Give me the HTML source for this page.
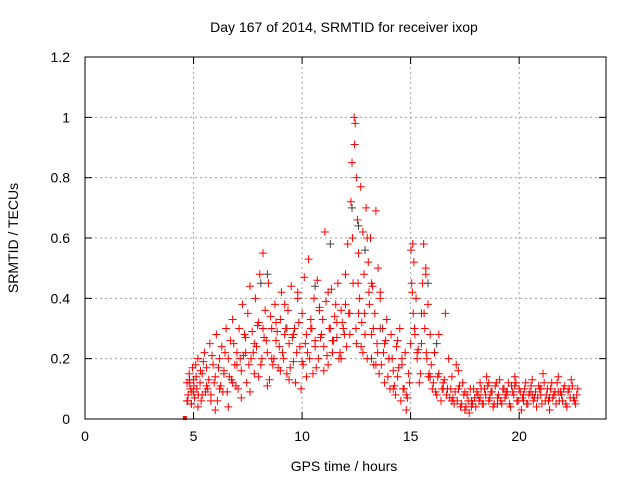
<!DOCTYPE html>
<html><head><meta charset="utf-8"><style>
body{margin:0;background:#fff;font-family:"Liberation Sans",sans-serif}
svg text{font-family:"Liberation Sans",sans-serif;font-size:14px;fill:#000}
</style></head><body>
<svg id="chart" width="640" height="480" viewBox="0 0 640 480">
<rect x="0" y="0" width="640" height="480" fill="#fff"/>
<text x="344" y="32" text-anchor="middle">Day 167 of 2014, SRMTID for receiver ixop</text>
<text x="344" y="471" text-anchor="middle">GPS time / hours</text>
<text transform="translate(18,238) rotate(-90)" text-anchor="middle">SRMTID / TECUs</text>
<g id="grid"></g>
<g id="ticks"></g>
<g id="gray"></g>
<g id="red"></g>
<rect x="85" y="57" width="521" height="362" fill="none" stroke="#000" stroke-width="1"/>
</svg>
<script>
const xTicks=[0,5,10,15,20];
const yTicks=[0,0.2,0.4,0.6,0.8,1,1.2];
const yTickLabels=["0","0.2","0.4","0.6","0.8","1","1.2"];
const redTimes=[4.7,4.75,4.8,4.85,4.9,4.95,5.0,5.05,5.1,5.15,5.2,5.3,5.35,5.4,5.5,5.55,5.6,5.7,5.75,5.8,5.9,6.0,6.05,6.1,6.2,6.25,6.3,6.4,6.5,6.55,6.6,6.7,6.75,6.8,6.9,7.0,7.05,7.1,7.2,7.25,7.3,7.4,7.45,7.5,7.6,7.65,7.7,7.8,7.85,7.9,8.0,8.05,8.1,8.2,8.25,8.3,8.4,8.45,8.5,8.6,8.7,8.75,8.8,8.9,9.0,9.05,9.1,9.2,9.3,9.35,9.4,9.5,9.6,9.65,9.7,9.8,9.9,10.0,10.05,10.1,10.2,10.25,10.3,10.4,10.5,10.55,10.6,10.7,10.75,10.8,10.9,11.0,11.05,11.1,11.2,11.3,11.35,11.4,11.5,11.6,11.65,11.7,11.8,11.9,12.0,12.05,12.1,12.2,12.25,12.3,12.35,12.4,12.42,12.45,12.5,12.5,12.55,12.6,12.65,12.7,12.75,12.8,12.85,12.9,12.95,13.0,13.05,13.1,13.15,13.2,13.25,13.3,13.35,13.4,13.45,13.5,13.55,13.6,13.7,13.75,13.8,13.9,14.0,14.05,14.1,14.2,14.3,14.35,14.4,14.5,14.55,14.6,14.7,14.8,14.9,15.0,15.02,15.05,15.1,15.12,15.15,15.2,15.25,15.3,15.4,15.5,15.55,15.6,15.65,15.7,15.75,15.8,15.85,15.9,16.0,16.1,16.2,16.3,16.4,16.5,16.6,16.7,16.75,16.8,16.9,17.0,17.1,17.2,17.3,17.4,17.5,17.6,17.7,17.8,17.9,18.0,18.1,18.2,18.3,18.4,18.5,18.6,18.7,18.8,18.9,19.0,19.1,19.2,19.3,19.4,19.5,19.6,19.7,19.8,19.9,20.0,20.1,20.2,20.3,20.4,20.5,20.6,20.7,20.8,20.9,21.0,21.1,21.2,21.3,21.4,21.5,21.6,21.7,21.8,21.9,22.0,22.1,22.2,22.3,22.4,22.5,22.6,22.7,4.7,4.8,4.9,5.0,5.2,5.4,5.6,5.8,6.0,6.2,6.4,6.6,6.8,7.0,7.2,7.4,7.6,7.8,8.0,8.2,8.4,8.6,8.8,9.0,9.2,9.4,9.6,9.8,10.0,10.2,10.4,10.6,10.8,11.0,11.2,11.4,11.6,11.8,12.0,12.2,12.6,12.8,13.0,13.2,13.4,13.6,13.8,14.0,14.2,14.4,14.6,14.8,15.3,15.5,15.7,15.9,16.1,16.3,16.5,16.9,17.2,17.5,17.8,18.2,18.6,19.0,19.4,19.8,20.2,20.6,21.0,21.4,21.8,22.2,22.6];
const redValues=[0.12,0.08,0.15,0.1,0.05,0.17,0.13,0.07,0.18,0.1,0.2,0.12,0.06,0.15,0.22,0.09,0.17,0.13,0.25,0.08,0.18,0.14,0.28,0.06,0.2,0.11,0.24,0.16,0.3,0.09,0.2,0.26,0.13,0.33,0.18,0.22,0.1,0.3,0.16,0.38,0.21,0.27,0.12,0.35,0.44,0.2,0.29,0.15,0.4,0.24,0.32,0.48,0.18,0.55,0.27,0.36,0.22,0.45,0.13,0.3,0.2,0.38,0.26,0.17,0.33,0.42,0.22,0.28,0.15,0.36,0.25,0.44,0.19,0.3,0.12,0.4,0.24,0.35,0.18,0.47,0.28,0.22,0.53,0.33,0.15,0.4,0.26,0.46,0.2,0.36,0.28,0.24,0.62,0.39,0.18,0.3,0.43,0.22,0.34,0.27,0.45,0.2,0.36,0.3,0.48,0.24,0.58,0.35,0.72,0.85,0.45,1.0,0.91,0.98,0.8,0.25,0.66,0.55,0.4,0.77,0.32,0.62,0.48,0.28,0.7,0.2,0.52,0.38,0.6,0.28,0.44,0.18,0.35,0.69,0.25,0.5,0.15,0.4,0.3,0.22,0.12,0.33,0.2,0.1,0.28,0.16,0.08,0.24,0.14,0.3,0.06,0.2,0.1,0.03,0.15,0.25,0.56,0.45,0.58,0.35,0.52,0.28,0.4,0.2,0.12,0.25,0.45,0.58,0.3,0.5,0.2,0.38,0.15,0.28,0.1,0.22,0.08,0.15,0.06,0.12,0.35,0.1,0.2,0.07,0.14,0.05,0.18,0.1,0.04,0.12,0.03,0.08,0.02,0.06,0.1,0.04,0.08,0.12,0.05,0.1,0.14,0.06,0.09,0.04,0.11,0.07,0.13,0.05,0.1,0.08,0.12,0.04,0.09,0.14,0.06,0.1,0.03,0.08,0.12,0.05,0.09,0.13,0.07,0.04,0.11,0.08,0.15,0.06,0.1,0.03,0.12,0.08,0.05,0.14,0.09,0.06,0.11,0.04,0.1,0.13,0.07,0.05,0.1,0.06,0.12,0.05,0.09,0.04,0.08,0.11,0.06,0.03,0.1,0.15,0.04,0.12,0.18,0.07,0.22,0.09,0.25,0.14,0.3,0.11,0.2,0.32,0.16,0.38,0.13,0.28,0.42,0.19,0.14,0.3,0.24,0.37,0.16,0.42,0.26,0.32,0.2,0.38,0.28,0.35,0.22,0.6,0.45,0.18,0.42,0.25,0.2,0.1,0.26,0.18,0.08,0.22,0.35,0.48,0.14,0.22,0.28,0.1,0.06,0.16,0.09,0.04,0.07,0.12,0.05,0.09,0.11,0.06,0.08,0.1,0.07,0.09];
const extraTimes=[4.72,4.82,4.92,5.02,5.12,5.22,5.32,5.45,5.65,5.85,5.95,6.15,6.35,6.45,6.65,6.85,6.95,7.15,7.35,7.55,7.75,7.95,8.15,8.35,8.55,8.65,8.85,8.95,9.15,9.25,9.45,9.55,9.75,9.85,9.95,10.15,10.35,10.45,10.65,10.85,10.95,11.15,11.25,11.45,11.55,11.75,11.85,11.95,12.15,12.32,12.48,12.58,12.72,12.88,13.08,13.28,13.48,13.65,13.85,13.95,14.15,14.25,14.45,14.65,14.75,14.85,14.95,15.08,15.18,15.35,15.45,15.62,15.72,15.82,15.95,16.05,16.15,16.25,16.45,16.55,16.65,16.85,16.95,17.05,17.15,17.25,17.35,17.45,17.55,17.65,17.75,17.85,17.95,18.05,18.15,18.25,18.35,18.45,18.55,18.65,18.75,18.85,18.95,19.05,19.15,19.25,19.35,19.45,19.55,19.65,19.75,19.85,19.95,20.05,20.15,20.25,20.35,20.45,20.55,20.65,20.75,20.85,20.95,21.05,21.15,21.25,21.35,21.45,21.55,21.65,21.75,21.85,21.95,22.05,22.15,22.25,22.35,22.45,22.55,22.65];
const extraValues=[0.06,0.13,0.09,0.11,0.14,0.08,0.16,0.19,0.1,0.21,0.12,0.17,0.09,0.22,0.14,0.25,0.11,0.2,0.28,0.18,0.22,0.31,0.2,0.26,0.34,0.18,0.29,0.24,0.2,0.3,0.17,0.27,0.22,0.32,0.1,0.25,0.2,0.3,0.17,0.27,0.33,0.21,0.3,0.26,0.38,0.22,0.32,0.28,0.35,0.6,0.3,0.45,0.24,0.35,0.42,0.3,0.22,0.18,0.26,0.14,0.2,0.11,0.17,0.1,0.22,0.07,0.12,0.42,0.3,0.23,0.15,0.35,0.22,0.14,0.18,0.12,0.09,0.14,0.1,0.13,0.08,0.1,0.07,0.09,0.06,0.11,0.05,0.08,0.04,0.06,0.1,0.05,0.07,0.09,0.06,0.1,0.05,0.08,0.11,0.07,0.09,0.05,0.12,0.08,0.06,0.1,0.07,0.09,0.05,0.11,0.08,0.12,0.06,0.09,0.07,0.1,0.05,0.08,0.11,0.06,0.09,0.07,0.1,0.05,0.12,0.08,0.06,0.1,0.07,0.09,0.12,0.06,0.08,0.1,0.05,0.09,0.07,0.11,0.06,0.08,0.05,0.07];
const grayTimes=[8.1,8.4,9.3,10.6,11.3,12.3,12.6,12.9,13.2,13.6,15.8,16.2];
const grayValues=[0.45,0.48,0.3,0.44,0.58,0.7,0.64,0.56,0.2,0.3,0.45,0.25];
const xs=v=>85+v*(521/24);
const ys=v=>419-v*(362/1.2);
const NS="http://www.w3.org/2000/svg";
const grid=document.getElementById('grid'),ticks=document.getElementById('ticks');
function mk(tag,attrs,parent){const e=document.createElementNS(NS,tag);for(const k in attrs)e.setAttribute(k,attrs[k]);parent.appendChild(e);return e;}
xTicks.forEach(t=>{
  if(t>0){const l=mk('line',{x1:xs(t),x2:xs(t),y1:57,y2:419,stroke:'#a0a0a0','stroke-dasharray':'2,3'},grid);
  
  }
  mk('line',{x1:xs(t),x2:xs(t),y1:419,y2:412,stroke:'#000'},ticks);
  mk('line',{x1:xs(t),x2:xs(t),y1:57,y2:64,stroke:'#000'},ticks);
  const tx=mk('text',{x:xs(t),y:441,'text-anchor':'middle'},ticks);tx.textContent=t;
  
  
});
yTicks.forEach((t,i)=>{
  if(t>0&&t<1.2){const l=mk('line',{x1:85,x2:606,y1:ys(t),y2:ys(t),stroke:'#a0a0a0','stroke-dasharray':'2,3'},grid);
  
  }
  mk('line',{x1:85,x2:92,y1:ys(t),y2:ys(t),stroke:'#000'},ticks);
  mk('line',{x1:606,x2:599,y1:ys(t),y2:ys(t),stroke:'#000'},ticks);
  const tx=mk('text',{x:70,y:ys(t)+5,'text-anchor':'end'},ticks);tx.textContent=yTickLabels[i];
  
  
});
function plus(g,x,y,c){const p=mk('path',{d:`M${x-4},${y}h8M${x},${y-4}v8`,stroke:c,'stroke-width':1,fill:'none'},g);
  
  }
const gg=document.getElementById('gray'),rg=document.getElementById('red');
grayTimes.forEach((t,i)=>plus(gg,xs(t),ys(grayValues[i]),'#404040'));
redTimes.forEach((t,i)=>plus(rg,xs(t),ys(redValues[i]),'#ff0000'));
extraTimes.forEach((t,i)=>plus(rg,xs(t),ys(extraValues[i]),'#ff0000'));
const sq=mk('rect',{x:xs(4.6)-2,y:ys(0)-3,width:4,height:4,fill:'#ff0000'},rg);


</script>
</body></html>
